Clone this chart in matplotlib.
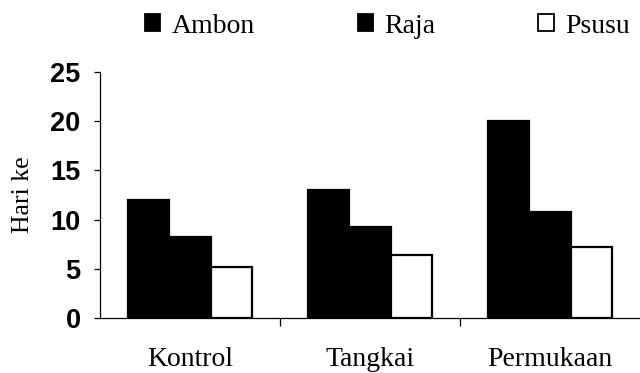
import matplotlib

matplotlib.use('Agg')
import matplotlib.pyplot as plt
import numpy as np
from matplotlib.patches import Patch

categories = ['Kontrol', 'Tangkai', 'Permukaan']
series_names = ['Ambon', 'Raja', 'Psusu']
ambon = [12.0, 13.0, 20.0]
raja = [8.2, 9.2, 10.8]
psusu = [5.2, 6.4, 7.2]
y_ticks = [0, 5, 10, 15, 20, 25]

serif = 'Liberation Serif'
sans = 'Liberation Sans'

fig = plt.figure(figsize=(6.4, 3.73), dpi=100)
ax = fig.add_axes([0.15625, 0.1475, 0.84375, 0.6595])

x = np.arange(len(categories))
width = 0.228
styles = [('black', 'black'), ('black', 'black'), ('white', 'black')]
for i, (vals, (fc, ec)) in enumerate(zip([ambon, raja, psusu], styles)):
    ax.bar(x + (i - 1) * width, vals, width, color=fc, edgecolor=ec,
           linewidth=1.6)

ax.set_xlim(-0.5, 2.5)
ax.set_ylim(0, 25)
ax.spines['top'].set_visible(False)
ax.spines['right'].set_visible(False)
for s in ('left', 'bottom'):
    ax.spines[s].set_linewidth(0.9)

ax.set_yticks(y_ticks)
ax.set_yticklabels([str(t) for t in y_ticks], fontfamily=sans,
                   fontweight='bold', fontsize=19.5)
ax.tick_params(axis='y', direction='out', length=4, width=0.9, pad=10)

# boundary ticks as major, category names as minor ticks with no mark
ax.set_xticks([0.5, 1.5])
ax.set_xticklabels([])
ax.tick_params(axis='x', which='major', direction='out', length=6, width=0.9)
ax.set_xticks(x, minor=True)
ax.set_xticklabels(categories, minor=True, fontfamily=serif, fontsize=20)
ax.tick_params(axis='x', which='minor', length=0, pad=21)

ax.set_ylabel('Hari ke', fontfamily=serif, fontsize=18.5, labelpad=12)

handles = [Patch(facecolor=fc, edgecolor=ec, linewidth=1.3)
           for fc, ec in styles]
fig.legend(handles, series_names, loc='center', ncol=3,
           bbox_to_anchor=(0.605, 0.93), frameon=False,
           prop={'family': serif, 'size': 20},
           handlelength=0.56, handleheight=0.56, handletextpad=0.4,
           columnspacing=3.7)

fig.savefig('out.png', dpi=100)
